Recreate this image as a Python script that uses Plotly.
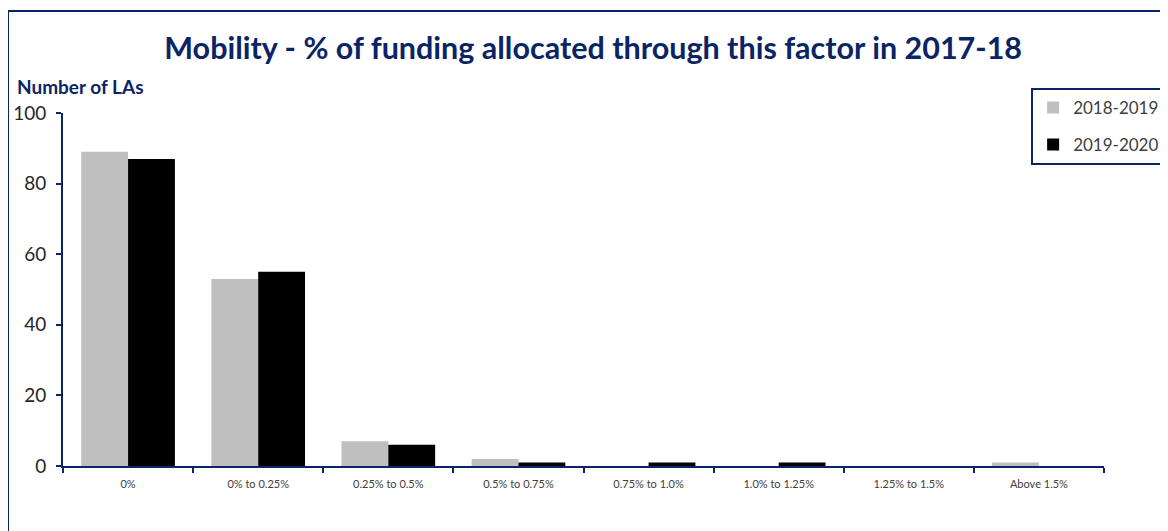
import plotly.graph_objects as go

# Data
categories = ["0%", "0% to 0.25%", "0.25% to 0.5%", "0.5% to 0.75%",
              "0.75% to 1.0%", "1.0% to 1.25%", "1.25% to 1.5%", "Above 1.5%"]
las_2018_19 = [89, 53, 7, 2, 0, 0, 0, 1]
las_2019_20 = [87, 55, 6, 1, 1, 1, 0, 0]

navy = "#0B2466"
label_grey = "#404040"
font_name = "Lato"

fig = go.Figure()
fig.add_trace(go.Bar(x=categories, y=las_2018_19, name="2018-2019",
                     legendgroup="a",
                     marker=dict(color="#BFBFBF", line_width=0)))
fig.add_trace(go.Bar(x=categories, y=las_2019_20, name="2019-2020",
                     legendgroup="b",
                     marker=dict(color="#000000", line_width=0)))

# page body has an 8px margin, so the figure is offset to compensate
fig.update_layout(
    width=1168, height=531,
    paper_bgcolor="white", plot_bgcolor="white",
    margin=dict(l=55, r=72, t=105, b=73, autoexpand=False),
    barmode="group", bargap=0.28, bargroupgap=0,
    font=dict(family=font_name, color=label_grey),
    title=dict(text="<b>Mobility - % of funding allocated through this factor in 2017-18</b>",
               x=0.501, xanchor="center", y=0.925, yanchor="middle",
               font=dict(size=30.5, color=navy, family=font_name)),
    legend=dict(x=0.93, xanchor="left", y=1.071, yanchor="top",
                bordercolor=navy, borderwidth=2, bgcolor="white",
                font=dict(size=17, color=label_grey), itemwidth=30,
                traceorder="grouped", tracegroupgap=12),
    showlegend=True,
)

fig.update_xaxes(showline=True, linecolor=navy, linewidth=2,
                 ticks="outside", tickson="boundaries", ticklen=5,
                 tickcolor=navy, tickwidth=2, ticklabelstandoff=7,
                 tickfont=dict(size=11, color=label_grey),
                 showgrid=False, automargin=False)
fig.update_yaxes(range=[0, 100], dtick=20, showline=True, linecolor=navy,
                 linewidth=2, ticks="outside", ticklen=5, tickcolor=navy,
                 tickwidth=2, ticklabelstandoff=6,
                 tickfont=dict(size=19, color="#262626"),
                 showgrid=False, zeroline=False, automargin=False)

# axis caption above the y axis
fig.add_annotation(text="<b>Number of LAs</b>", xref="paper", yref="paper",
                   x=-0.046, y=1.074, xanchor="left", yanchor="middle",
                   showarrow=False, font=dict(size=19, color=navy, family=font_name))

# outer chart frame
fig.add_shape(type="rect", xref="paper", yref="paper",
              x0=-0.0528, x1=1.2, y0=-0.3, y1=1.289,
              line=dict(color=navy, width=2), fillcolor="rgba(0,0,0,0)")

fig.write_html("out.html")
